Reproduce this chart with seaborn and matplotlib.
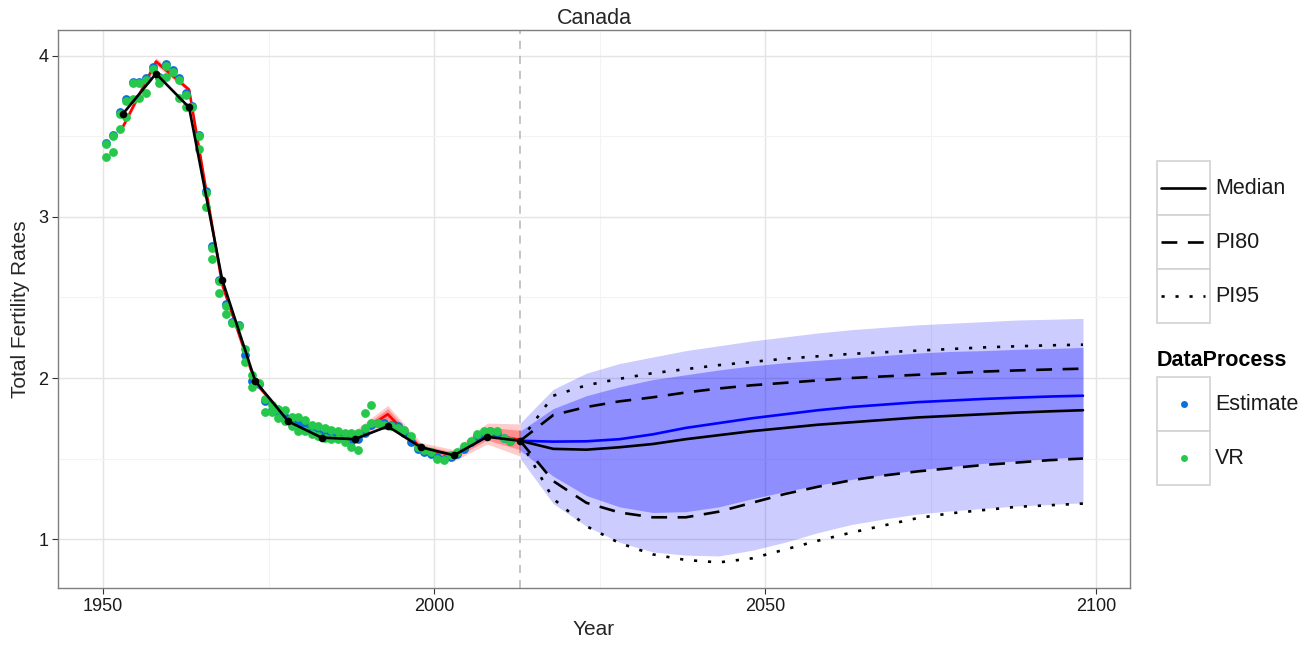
import numpy as np
import pandas as pd
import matplotlib
matplotlib.use("Agg")
import matplotlib.pyplot as plt
import seaborn as sns
from matplotlib.patches import Rectangle
from matplotlib.lines import Line2D

# ---- observed annual total fertility (mid-year positions) ----
obs_years = np.arange(1950.5, 2012.0, 1.0)
vr_main = [3.45, 3.50, 3.64, 3.72, 3.83, 3.83, 3.85, 3.92, 3.86, 3.94,
           3.90, 3.85, 3.76, 3.68, 3.50, 3.15, 2.81, 2.60, 2.45, 2.34,
           2.32, 2.18, 2.02, 1.97, 1.87, 1.83, 1.81, 1.80, 1.76, 1.76,
           1.74, 1.71, 1.70, 1.69, 1.68, 1.67, 1.66, 1.66, 1.66, 1.69,
           1.72, 1.72, 1.71, 1.70, 1.69, 1.68, 1.64, 1.57, 1.55, 1.54,
           1.50, 1.49, 1.52, 1.54, 1.58, 1.61, 1.65, 1.67, 1.67, 1.67,
           1.63, 1.61]
estimate = [3.46, 3.51, 3.65, 3.73, 3.84, 3.84, 3.86, 3.93, 3.87, 3.95,
            3.91, 3.86, 3.77, 3.69, 3.51, 3.16, 2.82, 2.61, 2.46, 2.35,
            2.33, 2.14, 1.98, 1.96, 1.86, 1.80, 1.78, 1.76, 1.73, 1.72,
            1.70, 1.68, 1.66, 1.65, 1.64, 1.63, 1.62, 1.61, 1.62, 1.66,
            1.71, 1.72, 1.72, 1.71, 1.70, 1.66, 1.60, 1.56, 1.54, 1.53,
            1.51, 1.50, 1.51, 1.53, 1.56, 1.60, 1.64, 1.66, 1.67, 1.66,
            1.63, 1.61]
vr_alt_years = [1950.5, 1951.5, 1952.5, 1953.5, 1954.5, 1955.5, 1956.5,
                1958.5, 1959.5, 1961.5, 1962.5, 1964.5, 1965.5, 1966.5,
                1967.5, 1968.5, 1971.5, 1972.5, 1974.5, 1975.5, 1976.5,
                1977.5, 1978.5, 1979.5, 1980.5, 1981.5, 1982.5, 1983.5,
                1984.5, 1985.5, 1986.5, 1987.5, 1988.5, 1989.5, 1990.5]
vr_alt = [3.375, 3.405, 3.545, 3.62, 3.73, 3.74, 3.77, 3.83, 3.87, 3.74,
          3.68, 3.42, 3.06, 2.74, 2.53, 2.40, 2.10, 1.945, 1.79, 1.79,
          1.75, 1.73, 1.70, 1.67, 1.67, 1.65, 1.64, 1.63, 1.62, 1.62,
          1.60, 1.57, 1.55, 1.78, 1.83]

# ---- five-year estimates ----
hist_years = [1953, 1958, 1963, 1968, 1973, 1978, 1983, 1988, 1993, 1998,
              2003, 2008, 2013]
hist_median = [3.64, 3.89, 3.68, 2.61, 1.98, 1.73, 1.63, 1.62, 1.70, 1.57,
               1.52, 1.635, 1.61]
model_mid = [3.56, 3.965, 3.79, 2.58, 1.97, 1.74, 1.65, 1.64, 1.775, 1.565,
             1.52, 1.655, 1.615]
model_lo80 = [3.55, 3.95, 3.78, 2.57, 1.96, 1.73, 1.635, 1.62, 1.74, 1.545,
              1.50, 1.615, 1.555]
model_hi80 = [3.57, 3.98, 3.80, 2.59, 1.98, 1.75, 1.665, 1.66, 1.81, 1.585,
              1.54, 1.695, 1.675]
model_lo95 = [3.545, 3.94, 3.775, 2.565, 1.955, 1.725, 1.625, 1.605, 1.72,
              1.53, 1.485, 1.59, 1.515]
model_hi95 = [3.575, 3.99, 3.805, 2.595, 1.985, 1.755, 1.675, 1.675, 1.83,
              1.60, 1.555, 1.72, 1.715]

# ---- projections ----
proj_years = [2013, 2018, 2023, 2028, 2033, 2038, 2043, 2048, 2053, 2058,
              2063, 2068, 2073, 2078, 2083, 2088, 2093, 2098]
proj_median = [1.61, 1.56, 1.555, 1.57, 1.59, 1.62, 1.645, 1.67, 1.69, 1.71,
               1.725, 1.74, 1.755, 1.765, 1.775, 1.785, 1.793, 1.80]
proj_alt = [1.61, 1.605, 1.607, 1.62, 1.65, 1.69, 1.72, 1.75, 1.775, 1.80,
            1.82, 1.835, 1.85, 1.86, 1.87, 1.878, 1.885, 1.89]
pi80_lo = [1.61, 1.36, 1.225, 1.165, 1.135, 1.135, 1.17, 1.225, 1.28, 1.325,
           1.365, 1.395, 1.42, 1.44, 1.46, 1.475, 1.49, 1.50]
pi80_hi = [1.61, 1.77, 1.82, 1.855, 1.88, 1.91, 1.935, 1.955, 1.97, 1.985,
           2.00, 2.01, 2.02, 2.03, 2.04, 2.047, 2.053, 2.058]
pi95_lo = [1.61, 1.25, 1.08, 0.975, 0.905, 0.87, 0.855, 0.88, 0.935, 0.99,
           1.04, 1.085, 1.13, 1.16, 1.18, 1.20, 1.21, 1.22]
pi95_hi = [1.61, 1.89, 1.955, 1.995, 2.03, 2.055, 2.08, 2.10, 2.12, 2.135,
           2.15, 2.16, 2.17, 2.18, 2.19, 2.197, 2.203, 2.207]
band80_lo = [1.55, 1.39, 1.27, 1.20, 1.165, 1.17, 1.20, 1.25, 1.295, 1.335,
             1.37, 1.40, 1.43, 1.45, 1.47, 1.485, 1.50, 1.51]
band80_hi = [1.67, 1.81, 1.89, 1.945, 1.99, 2.02, 2.05, 2.075, 2.095, 2.11,
             2.125, 2.14, 2.155, 2.165, 2.17, 2.178, 2.183, 2.19]
band95_lo = [1.50, 1.22, 1.08, 0.98, 0.92, 0.90, 0.895, 0.93, 0.98, 1.04,
             1.09, 1.125, 1.155, 1.175, 1.19, 1.205, 1.215, 1.225]
band95_hi = [1.72, 1.93, 2.03, 2.09, 2.13, 2.17, 2.20, 2.23, 2.255, 2.28,
             2.30, 2.315, 2.33, 2.34, 2.35, 2.36, 2.365, 2.37]
present_year = 2013

obs = pd.DataFrame({"Year": obs_years, "VR": vr_main, "Estimate": estimate})
alt = pd.DataFrame({"Year": vr_alt_years, "VR": vr_alt})
hist = pd.DataFrame({"Year": hist_years, "Median": hist_median,
                     "Model": model_mid})
proj = pd.DataFrame({"Year": proj_years, "Median": proj_median,
                     "Alt": proj_alt, "lo80": pi80_lo, "hi80": pi80_hi,
                     "lo95": pi95_lo, "hi95": pi95_hi})

EST_COL = "#0b6fdc"
VR_COL = "#25c84a"

sns.set_theme(style="whitegrid")
plt.rcParams["font.family"] = ["Liberation Sans", "DejaVu Sans"]

W, H = 1314, 646
fig = plt.figure(figsize=(W / 100, H / 100), dpi=100, facecolor="white")
ax = fig.add_axes([58 / W, 1 - 588 / H, (1130 - 58) / W, (588 - 30) / H])
ax.set_facecolor("white")

ax.axvline(present_year, color="#b5b5b5", lw=1.1, ls=(0, (5.3, 4.5)),
           zorder=1.5)

# model estimate with uncertainty
ax.fill_between(hist_years, model_lo95, model_hi95, color="red", alpha=0.2,
                lw=0, zorder=2)
ax.fill_between(hist_years, model_lo80, model_hi80, color="red", alpha=0.3,
                lw=0, zorder=2)
sns.lineplot(data=hist, x="Year", y="Model", color="red", lw=1.9,
             estimator=None, sort=False, ax=ax, zorder=3)

# observations
sns.scatterplot(data=obs, x="Year", y="Estimate", color=EST_COL, s=40,
                linewidth=0, ax=ax, zorder=4)
sns.scatterplot(data=obs, x="Year", y="VR", color=VR_COL, s=40,
                linewidth=0, ax=ax, zorder=5)
sns.scatterplot(data=alt, x="Year", y="VR", color=VR_COL, s=40,
                linewidth=0, ax=ax, zorder=5)

# past median
sns.lineplot(data=hist, x="Year", y="Median", color="black", lw=1.9,
             marker="o", markersize=5.5, markeredgewidth=0,
             estimator=None, sort=False, ax=ax, zorder=6)

# projection intervals
ax.fill_between(proj_years, band95_lo, band95_hi, color="blue", alpha=0.2,
                lw=0, zorder=7)
ax.fill_between(proj_years, band80_lo, band80_hi, color="blue", alpha=0.3,
                lw=0, zorder=7)
sns.lineplot(data=proj, x="Year", y="Alt", color="blue", lw=1.9,
             estimator=None, sort=False, ax=ax, zorder=8)
sns.lineplot(data=proj, x="Year", y="Median", color="black", lw=1.9,
             estimator=None, sort=False, ax=ax, zorder=9)
for col in ["lo80", "hi80"]:
    sns.lineplot(data=proj, x="Year", y=col, color="black", lw=1.9,
                 ls=(0, (6, 4)), dash_capstyle="butt",
                 estimator=None, sort=False, ax=ax, zorder=9)
for col in ["lo95", "hi95"]:
    sns.lineplot(data=proj, x="Year", y=col, color="black", lw=1.9,
                 ls=(0, (1.2, 4.1)), dash_capstyle="butt",
                 estimator=None, sort=False, ax=ax, zorder=9)

# axes styling
ax.set_xlim(1943.2, 2105.1)
ax.set_ylim(0.696, 4.161)
ax.set_xticks([1950, 2000, 2050, 2100])
ax.set_xticks([1975, 2025, 2075], minor=True)
ax.set_yticks([1, 2, 3, 4])
ax.set_yticks([1.5, 2.5, 3.5], minor=True)
ax.grid(which="major", color="#e4e4e4", lw=1.0)
ax.grid(which="minor", color="#f3f3f3", lw=0.8)
ax.set_axisbelow(True)
for sp in ax.spines.values():
    sp.set_visible(True)
    sp.set_color("#7f7f7f")
    sp.set_linewidth(1.0)
ax.tick_params(which="major", direction="out", length=4, width=0.8,
               color="#333333", labelsize=13, labelcolor="#1a1a1a", pad=3,
               bottom=True, left=True)
ax.tick_params(which="minor", length=0)
ax.set_xlabel("Year", fontsize=15, labelpad=4)
ax.set_ylabel("Total Fertility Rates", fontsize=15, labelpad=6)
ax.set_title("Canada", fontsize=15.5, pad=4)

# legend panel
lg = fig.add_axes([0, 0, 1, 1], facecolor="none")
lg.set_xlim(0, W)
lg.set_ylim(H, 0)
lg.axis("off")
box_kw = dict(facecolor="white", edgecolor="#d2d2d2", lw=1.2)
key_left, key_w, key_h = 1157, 53, 54
line_keys = [("Median", "-"), ("PI80", (0, (6, 4))), ("PI95", (0, (1.2, 4.1)))]
for i, (lab, style) in enumerate(line_keys):
    top = 161 + i * key_h
    lg.add_patch(Rectangle((key_left, top), key_w, key_h, **box_kw))
    lg.add_line(Line2D([key_left + 4, key_left + key_w - 5],
                       [top + key_h / 2] * 2, color="black", lw=1.9,
                       ls=style, dash_capstyle="butt"))
    lg.text(key_left + key_w + 5, top + key_h / 2, lab, fontsize=15.5,
            va="center", ha="left", color="#1a1a1a")
lg.text(key_left, 361, "DataProcess", fontsize=15.5, fontweight="bold",
        va="center", ha="left", color="black")
for i, (lab, col) in enumerate([("Estimate", EST_COL), ("VR", VR_COL)]):
    top = 377 + i * key_h
    lg.add_patch(Rectangle((key_left, top), key_w, key_h, **box_kw))
    lg.plot([key_left + key_w / 2], [top + key_h / 2], "o", color=col,
            markersize=5, markeredgewidth=0)
    lg.text(key_left + key_w + 5, top + key_h / 2, lab, fontsize=15.5,
            va="center", ha="left", color="#1a1a1a")

fig.savefig("out.png", dpi=100, facecolor="white")
